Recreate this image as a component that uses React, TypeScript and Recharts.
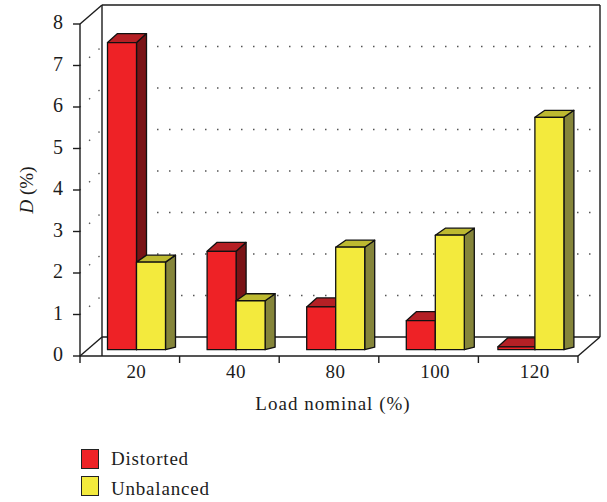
import { BarChart, Bar, XAxis, YAxis, CartesianGrid, Legend } from 'recharts'

const categories = ['20', '40', '80', '100', '120']
const distorted = [7.4, 2.37, 1.03, 0.7, 0.07]
const unbalanced = [2.11, 1.18, 2.47, 2.76, 5.6]
const yTicks = [0, 1, 2, 3, 4, 5, 6, 7, 8]

const chartData = categories.map((load, i) => ({
  load,
  distorted: distorted[i],
  unbalanced: unbalanced[i],
}))

const FONT = '"Liberation Serif", serif'
const INK = '#1c1c1c'
// depth of the back wall and of one bar, plus how far bars sit off the axis
const WALL_X = 22
const WALL_Y = 19
const BAR_DX = 6.5
const BAR_DY = 6.3
const DEPTH_X = 10

const PALETTE: Record<string, { front: string; top: string; side: string; depth: number }> = {
  distorted: { front: '#ee2226', top: '#b52025', side: '#7a1316', depth: 9 },
  unbalanced: { front: '#f3ea3d', top: '#bdb930', side: '#85853a', depth: 7 },
}

function Bar3D(props: any) {
  const { x, y, width, height, dataKey, index } = props
  const c = PALETTE[dataKey]
  // the almost empty 120 bar is drawn wider to the left in the reference
  const grow = dataKey === 'distorted' && index === 4 ? 8 : 0
  const l = x + BAR_DX - grow
  const r = x + BAR_DX + width
  const t = y - BAR_DY
  const b = y + height - BAR_DY
  const d = c.depth
  return (
    <g stroke="#111" strokeWidth={1.3} strokeLinejoin="round">
      <polygon points={`${r},${t} ${r + DEPTH_X},${t - d} ${r + DEPTH_X},${b - 2.5} ${r},${b}`} fill={c.side} />
      <polygon points={`${l},${t} ${l + DEPTH_X},${t - d} ${r + DEPTH_X},${t - d} ${r},${t}`} fill={c.top} />
      <rect x={l} y={t} width={r - l} height={b - t} fill={c.front} />
    </g>
  )
}

function GridLine(props: any) {
  const { x1, x2, y1, index } = props
  const y = y1
  const edge = index === 0 || index === yTicks.length - 1
  if (edge) {
    return (
      <g stroke={INK} strokeWidth={1.4} fill="none">
        <line x1={x1} y1={y} x2={x1 + WALL_X} y2={y - WALL_Y} />
        <line x1={x1 + WALL_X} y1={y - WALL_Y} x2={x2 + WALL_X} y2={y - WALL_Y} />
        {index === 0 && <line x1={x2} y1={y} x2={x2 + WALL_X} y2={y - WALL_Y} />}
        {index === 0 && <line x1={x1 + WALL_X} y1={y} x2={x1 + WALL_X} y2={y - 351} />}
        {index === 0 && <line x1={x2 + WALL_X} y1={y - WALL_Y} x2={x2 + WALL_X} y2={y - 351} />}
      </g>
    )
  }
  return (
    <g stroke="#555" strokeWidth={1.4} fill="none">
      <line x1={x1} y1={y} x2={x1 + WALL_X} y2={y - WALL_Y} strokeDasharray="1.4 11" strokeDashoffset={-12} />
      <line
        x1={x1 + WALL_X}
        y1={y - WALL_Y}
        x2={x2 + WALL_X}
        y2={y - WALL_Y}
        strokeDasharray="1.5 10.5"
        strokeDashoffset={5}
      />
    </g>
  )
}

function XTick(props: any) {
  const { x, y, payload, index, width } = props
  const band = width / categories.length
  const left = x - band / 2
  return (
    <g>
      <line x1={left} y1={y - 14} x2={left} y2={y - 7} stroke={INK} strokeWidth={1.4} />
      {index === categories.length - 1 && (
        <line x1={left + band} y1={y - 14} x2={left + band} y2={y - 7} stroke={INK} strokeWidth={1.4} />
      )}
      <text x={x + BAR_DX} y={y + 8} textAnchor="middle" fontFamily={FONT} fontSize={19} letterSpacing={0.4} fill={INK}>
        {payload.value}
      </text>
    </g>
  )
}

function YTitle() {
  return (
    <text
      transform="translate(33 190) rotate(-90)"
      textAnchor="middle"
      fontFamily={FONT}
      fontSize={19}
      fill={INK}
    >
      <tspan fontStyle="italic">D</tspan> (%)
    </text>
  )
}

function XTitle() {
  return (
    <text x={333} y={410} textAnchor="middle" fontFamily={FONT} fontSize={19} letterSpacing={1} fill={INK}>
      Load nominal (%)
    </text>
  )
}

function LegendBox() {
  const rows = [
    { name: 'Distorted', key: 'distorted', shift: 0 },
    { name: 'Unbalanced', key: 'unbalanced', shift: 3 },
  ]
  return (
    <div style={{ fontFamily: FONT, fontSize: 19, letterSpacing: 0.8, color: INK }}>
      {rows.map((r) => (
        <div key={r.key} style={{ display: 'flex', alignItems: 'center', height: 27 }}>
          <span
            style={{
              flex: 'none',
              width: 16,
              height: 18,
              background: PALETTE[r.key].front,
              border: '1.5px solid #222',
              marginRight: 12,
            }}
          />
          <span style={{ position: 'relative', top: r.shift }}>{r.name}</span>
        </div>
      ))}
    </div>
  )
}

export default function App() {
  return (
    <div style={{ position: 'absolute', left: 0, top: 0, width: 607, height: 502, background: '#fff' }}>
      <BarChart
        width={607}
        height={502}
        data={chartData}
        margin={{ top: 24, right: 29, left: 0, bottom: 0 }}
        barSize={29}
        barGap={0}
      >
        <CartesianGrid vertical={false} horizontal={GridLine as any} />
        <XAxis
          dataKey="load"
          height={146}
          axisLine={{ stroke: INK, strokeWidth: 1.4 }}
          tickLine={false}
          interval={0}
          tick={<XTick />}
          tickMargin={8}
          label={{ content: () => <XTitle /> }}
        />
        <YAxis
          width={80}
          domain={[0, 8]}
          ticks={yTicks}
          interval={0}
          axisLine={{ stroke: INK, strokeWidth: 1.4 }}
          tickLine={{ stroke: INK, strokeWidth: 1.4 }}
          tickSize={7}
          tickMargin={10}
          tick={{ fontFamily: FONT, fontSize: 20, fill: INK, dy: -2 }}
          label={{ content: () => <YTitle /> }}
        />
        <Legend
          layout="horizontal"
          verticalAlign="middle"
          align="center"
          content={() => <LegendBox />}
          wrapperStyle={{ position: 'absolute', left: 81, top: 445, width: 200 }}
        />
        <Bar dataKey="distorted" name="Distorted" fill="#ee2226" shape={Bar3D} isAnimationActive={false} />
        <Bar dataKey="unbalanced" name="Unbalanced" fill="#f3ea3d" shape={Bar3D} isAnimationActive={false} />
      </BarChart>
    </div>
  )
}
